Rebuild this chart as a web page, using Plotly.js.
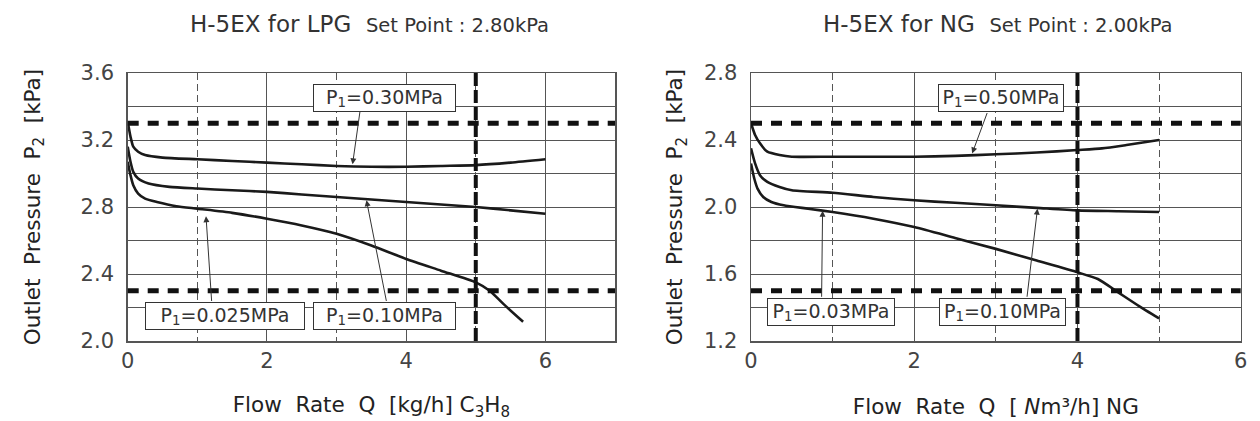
<!DOCTYPE html>
<html><head><meta charset="utf-8">
<script src="https://cdn.plot.ly/plotly-3.0.1.min.js"></script>
<style>body{margin:0;background:#fff}#chart{width:1260px;height:421px}</style>
</head><body><div id="chart"></div>
<script>
// ---- LPG chart data (Flow rate kg/h vs outlet pressure kPa) ----
const lpgQ030 = [0, 0.04, 0.08, 0.15, 0.25, 0.5, 1, 1.5, 2, 2.5, 3, 3.5, 4, 4.5, 5, 5.5, 6];
const lpgP030 = [3.31, 3.22, 3.16, 3.13, 3.11, 3.095, 3.085, 3.075, 3.065, 3.055, 3.045, 3.04, 3.04, 3.045, 3.05, 3.065, 3.085];
const lpgQ010 = [0, 0.04, 0.08, 0.15, 0.3, 0.6, 1, 1.5, 2, 2.5, 3, 3.5, 4, 4.5, 5, 5.5, 6];
const lpgP010 = [3.16, 3.07, 3.01, 2.97, 2.94, 2.92, 2.91, 2.9, 2.89, 2.875, 2.86, 2.845, 2.83, 2.815, 2.8, 2.78, 2.76];
const lpgQ0025 = [0, 0.04, 0.08, 0.15, 0.25, 0.42, 0.7, 1, 1.5, 2, 2.5, 3, 3.5, 4, 4.5, 5, 5.2, 5.4, 5.68];
const lpgP0025 = [3.07, 2.99, 2.93, 2.88, 2.85, 2.83, 2.805, 2.79, 2.765, 2.73, 2.69, 2.64, 2.57, 2.49, 2.42, 2.35, 2.3, 2.22, 2.115];
const lpgLimits = [3.3, 2.3];
const lpgMaxFlow = [5];

// ---- NG chart data (Flow rate Nm3/h vs outlet pressure kPa) ----
const ngQ050 = [0, 0.05, 0.11, 0.2, 0.35, 0.5, 1, 1.5, 2, 2.5, 3, 3.5, 4, 4.3, 4.6, 5];
const ngP050 = [2.5, 2.43, 2.38, 2.33, 2.31, 2.3, 2.3, 2.3, 2.3, 2.305, 2.315, 2.325, 2.34, 2.35, 2.37, 2.4];
const ngQ010 = [0, 0.05, 0.11, 0.2, 0.35, 0.5, 1, 1.5, 2, 2.5, 3, 3.5, 4, 4.5, 5];
const ngP010 = [2.35, 2.26, 2.19, 2.15, 2.12, 2.1, 2.085, 2.06, 2.04, 2.025, 2.01, 1.995, 1.98, 1.975, 1.97];
const ngQ003 = [0, 0.04, 0.08, 0.15, 0.25, 0.4, 0.7, 1, 1.5, 2, 2.5, 3, 3.5, 4, 4.25, 4.5, 4.75, 5];
const ngP003 = [2.26, 2.17, 2.11, 2.06, 2.03, 2.01, 1.99, 1.97, 1.93, 1.88, 1.815, 1.75, 1.68, 1.61, 1.57, 1.49, 1.41, 1.335];
const ngLimits = [2.5, 1.5];
const ngMaxFlow = [4];

// ---- text ----
const titles = ["H-5EX for LPG", "H-5EX for NG"];
const setPoints = ["Set Point : 2.80kPa", "Set Point : 2.00kPa"];
const xTitles = ["Flow&nbsp;&nbsp;Rate&nbsp;&nbsp;Q&nbsp;&nbsp;[kg/h]&nbsp;C<sub>3</sub>H<sub>8</sub>",
                 "Flow&nbsp;&nbsp;Rate&nbsp;&nbsp;Q&nbsp;&nbsp;[&nbsp;<i>N</i>m³/h]&nbsp;NG"];
const yTitle = "Outlet&nbsp;&nbsp;Pressure&nbsp;&nbsp;P<sub>2</sub>&nbsp;&nbsp;[kPa]";
const lpgLabels = ["P<sub>1</sub>=0.30MPa", "P<sub>1</sub>=0.025MPa", "P<sub>1</sub>=0.10MPa"];
const ngLabels = ["P<sub>1</sub>=0.50MPa", "P<sub>1</sub>=0.03MPa", "P<sub>1</sub>=0.10MPa"];

const FONT = "'DejaVu Sans', 'Noto Sans', sans-serif";
const GRID = '#555';

function curve(x, y, xa, ya) {
  return {x, y, xaxis: xa, yaxis: ya, type: 'scatter', mode: 'lines',
    line: {color: '#1a1a1a', width: 2.6, shape: 'spline', smoothing: 0.6},
    hoverinfo: 'skip', showlegend: false};
}

const data = [
  curve(lpgQ030, lpgP030, 'x', 'y'),
  curve(lpgQ010, lpgP010, 'x', 'y'),
  curve(lpgQ0025, lpgP0025, 'x', 'y'),
  curve(ngQ050, ngP050, 'x2', 'y2'),
  curve(ngQ010, ngP010, 'x2', 'y2'),
  curve(ngQ003, ngP003, 'x2', 'y2')
];

function xAxis(domain, range, anchor, text) {
  return {domain, range, anchor, tick0: 0, dtick: 2,
    showgrid: true, gridcolor: GRID, gridwidth: 1,
    minor: {dtick: 1, tick0: 0, showgrid: true, gridcolor: GRID, gridwidth: 1, griddash: '7px,4px'},
    showline: true, mirror: true, linecolor: GRID, linewidth: 1.5,
    zeroline: false, ticks: '', fixedrange: true,
    tickfont: {family: FONT, size: 21, color: '#444'},
    title: {text, font: {family: FONT, size: 21.5, color: '#222'}, standoff: 27}};
}
function yAxis(domain, range, anchor, text, standoff) {
  return {domain, range, anchor, tick0: range[0], dtick: 0.4, tickformat: '.1f',
    showgrid: true, gridcolor: GRID, gridwidth: 1,
    minor: {dtick: 0.2, tick0: range[0], showgrid: true, gridcolor: GRID, gridwidth: 1},
    showline: true, mirror: true, linecolor: GRID, linewidth: 1.5,
    zeroline: false, ticks: '', fixedrange: true, ticklabelstandoff: 8,
    tickfont: {family: FONT, size: 21, color: '#444'},
    title: {text, font: {family: FONT, size: 21.5, color: '#222'}, standoff}};
}

const yDom = [1 - 341 / 421, 1 - 73 / 421];
const layout = {
  width: 1260, height: 421,
  margin: {l: 0, r: 0, t: 0, b: 0},
  paper_bgcolor: '#fff', plot_bgcolor: '#fff',
  font: {family: FONT, color: '#222'},
  xaxis: xAxis([127.7 / 1260, 615 / 1260], [0, 7], 'y', xTitles[0]),
  yaxis: yAxis(yDom, [2.0, 3.6], 'x', yTitle, 34),
  xaxis2: xAxis([751 / 1260, 1240.7 / 1260], [0, 6], 'y2', xTitles[1]),
  yaxis2: yAxis(yDom, [1.2, 2.8], 'x2', yTitle, 15),
  shapes: [],
  annotations: []
};

function limitShapes(limits, maxFlow, xa, ya) {
  limits.forEach(v => layout.shapes.push({type: 'line', xref: xa + ' domain', yref: ya,
    x0: 0, x1: 1, y0: v, y1: v, line: {color: '#111', width: 5, dash: '11px,9px'}}));
  maxFlow.forEach(v => layout.shapes.push({type: 'line', xref: xa, yref: ya + ' domain',
    x0: v, x1: v, y0: 0, y1: 1, line: {color: '#111', width: 4, dash: '13px,4px'}}));
}
limitShapes(lpgLimits, lpgMaxFlow, 'x', 'y');
limitShapes(ngLimits, ngMaxFlow, 'x2', 'y2');

// titles
[[titles[0], setPoints[0], 369 / 1260], [titles[1], setPoints[1], 998 / 1260]].forEach(([t, s, px]) => {
  layout.annotations.push({xref: 'paper', yref: 'paper', x: px, y: 1 - 24 / 421,
    xanchor: 'center', yanchor: 'middle', showarrow: false,
    text: t + "&nbsp;&nbsp;<span style='font-size:19.5px'>" + s + "</span>",
    font: {family: FONT, size: 23, color: '#333'}});
});

function box(text, x, y, w, xa, ya) {
  layout.annotations.push({xref: xa, yref: ya, x, y, text, showarrow: false,
    width: w, height: 24, bgcolor: '#fff', bordercolor: '#333', borderwidth: 1, borderpad: 1,
    font: {family: FONT, size: 19, color: '#333'}});
}
function arrow(tx, ty, hx, hy, xa, ya) {
  layout.annotations.push({xref: xa, yref: ya, axref: xa, ayref: ya, x: hx, y: hy, ax: tx, ay: ty,
    text: '', showarrow: true, arrowhead: 2, arrowsize: 1.2, arrowwidth: 1, arrowcolor: '#333', standoff: 0});
}
// LPG labels
arrow(3.34, 3.38, 3.23, 3.055, 'x', 'y');
arrow(1.207, 2.23, 1.125, 2.745, 'x', 'y');
arrow(3.72, 2.23, 3.43, 2.84, 'x', 'y');
box(lpgLabels[0], 3.69, 3.45, 139, 'x', 'y');
box(lpgLabels[1], 1.40, 2.147, 156, 'x', 'y');
box(lpgLabels[2], 3.69, 2.147, 139, 'x', 'y');
// NG labels
arrow(2.90, 2.57, 2.71, 2.32, 'x2', 'y2');
arrow(0.865, 1.455, 0.877, 1.978, 'x2', 'y2');
arrow(3.38, 1.455, 3.51, 1.99, 'x2', 'y2');
box(ngLabels[0], 3.06, 2.652, 122, 'x2', 'y2');
box(ngLabels[1], 0.98, 1.375, 124, 'x2', 'y2');
box(ngLabels[2], 3.08, 1.375, 123, 'x2', 'y2');

Plotly.newPlot('chart', data, layout, {staticPlot: true, displayModeBar: false});
</script>
</body></html>
